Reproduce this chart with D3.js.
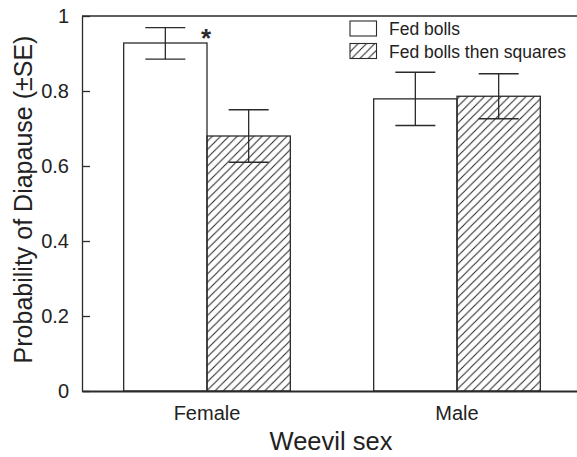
<!DOCTYPE html>
<html>
<head>
<meta charset="utf-8">
<script src="https://cdn.jsdelivr.net/npm/d3@7"></script>
<style>
  body { margin: 0; background: #fff; }
  svg { display: block; font-family: "Liberation Sans", Arial, sans-serif; }
</style>
</head>
<body>
<div class="plot"></div>
<script>
// DATA
var sexes = ["Female", "Male"];
var seriesNames = ["Fed bolls", "Fed bolls then squares"];
var fedBolls = [0.928, 0.779];
var fedBollsSquares = [0.680, 0.786];
var fedBollsHi = [0.969, 0.850];
var fedBollsLo = [0.885, 0.708];
var squaresHi = [0.750, 0.846];
var squaresLo = [0.610, 0.726];
var yTicks = [0, 0.2, 0.4, 0.6, 0.8, 1];
var significant = ["Female"];

var w = 577;
var h = 457;
var padLeft = 82, padTop = 16, padBottom = 391, padRight = 582;
var ink = "#2b2b2b";

var rows = [];
sexes.forEach(function (s, i) {
  rows.push({ sex: s, series: seriesNames[0], value: fedBolls[i], hi: fedBollsHi[i], lo: fedBollsLo[i] });
  rows.push({ sex: s, series: seriesNames[1], value: fedBollsSquares[i], hi: squaresHi[i], lo: squaresLo[i] });
});

var svg = d3.select(".plot").append("svg").attr("width", w).attr("height", h);

// hatch pattern
var defs = svg.append("defs");
defs.append("pattern")
  .attr("id", "hatch")
  .attr("patternUnits", "userSpaceOnUse")
  .attr("width", 8.3)
  .attr("height", 8.3)
  .append("path")
  .attr("d", "M-2,2 l4,-4 M0,8.3 l8.3,-8.3 M6.3,10.3 l4,-4")
  .attr("stroke", "#222")
  .attr("stroke-width", 1);

// SCALES
var xScale = d3.scaleBand()
  .domain(sexes)
  .range([padLeft, padRight])
  .paddingInner(1 / 3)
  .paddingOuter(1 / 6);

var xSub = d3.scaleBand()
  .domain(seriesNames)
  .range([0, xScale.bandwidth()]);

var yScale = d3.scaleLinear()
  .domain([0, 1])
  .range([padBottom, padTop]);

var fills = d3.scaleOrdinal().domain(seriesNames).range(["#fff", "url(#hatch)"]);

// top frame line
svg.append("line")
  .attr("x1", padLeft).attr("x2", w)
  .attr("y1", yScale(1)).attr("y2", yScale(1))
  .attr("stroke", ink).attr("stroke-width", 1.3);

// BARS
svg.selectAll("rect.bar")
  .data(rows)
  .enter()
  .append("rect")
  .attr("class", "bar")
  .attr("x", function (d) { return xScale(d.sex) + xSub(d.series); })
  .attr("y", function (d) { return yScale(d.value); })
  .attr("width", xSub.bandwidth())
  .attr("height", function (d) { return yScale(0) - yScale(d.value); })
  .attr("fill", function (d) { return fills(d.series); })
  .attr("stroke", ink)
  .attr("stroke-width", 1.3);

// ERROR BARS
var capW = 40;
var err = svg.selectAll("g.err")
  .data(rows)
  .enter()
  .append("g")
  .attr("class", "err")
  .attr("stroke", ink)
  .attr("stroke-width", 1.3);
err.append("line")
  .attr("x1", function (d) { return xScale(d.sex) + xSub(d.series) + xSub.bandwidth() / 2; })
  .attr("x2", function (d) { return xScale(d.sex) + xSub(d.series) + xSub.bandwidth() / 2; })
  .attr("y1", function (d) { return yScale(d.hi); })
  .attr("y2", function (d) { return yScale(d.lo); });
err.selectAll("line.cap")
  .data(function (d) { return [d, d].map(function (r, k) { return { r: r, v: k ? r.lo : r.hi }; }); })
  .enter()
  .append("line")
  .attr("class", "cap")
  .attr("x1", function (d) { return xScale(d.r.sex) + xSub(d.r.series) + xSub.bandwidth() / 2 - capW / 2; })
  .attr("x2", function (d) { return xScale(d.r.sex) + xSub(d.r.series) + xSub.bandwidth() / 2 + capW / 2; })
  .attr("y1", function (d) { return yScale(d.v); })
  .attr("y2", function (d) { return yScale(d.v); });

// asterisk
svg.selectAll("text.star")
  .data(significant)
  .enter()
  .append("text")
  .attr("class", "star")
  .attr("x", function (d) { return xScale(d) + xSub.bandwidth() - 1; })
  .attr("y", yScale(fedBollsHi[0]) + 19)
  .attr("text-anchor", "middle")
  .attr("font-size", "26px")
  .attr("font-weight", "bold")
  .attr("fill", ink)
  .text("*");

// AXES
var yAxis = d3.axisLeft(yScale)
  .tickValues(yTicks)
  .tickFormat(function (d) { return d === 0 || d === 1 ? d3.format("d")(d) : d3.format(".1f")(d); })
  .tickSizeInner(-8)
  .tickSizeOuter(0)
  .tickPadding(13);

var gy = svg.append("g")
  .attr("class", "axis y")
  .attr("transform", "translate(" + padLeft + ",0)")
  .call(yAxis);
gy.select(".domain").attr("stroke", ink).attr("stroke-width", 1.3);
gy.selectAll(".tick line").attr("stroke", ink).attr("stroke-width", 1.3);
gy.selectAll(".tick text")
  .attr("font-size", "20px")
  .attr("fill", "#222")
  .attr("font-family", "Liberation Sans, Arial, sans-serif");

var xAxis = d3.axisBottom(xScale)
  .tickSize(0)
  .tickPadding(15);

var gx = svg.append("g")
  .attr("class", "axis x")
  .attr("transform", "translate(0," + padBottom + ")")
  .call(xAxis);
gx.select(".domain").attr("stroke", ink).attr("stroke-width", 2);
gx.selectAll(".tick text")
  .attr("font-size", "20px")
  .attr("fill", "#222")
  .attr("font-family", "Liberation Sans, Arial, sans-serif");

// axis labels
svg.append("text")
  .attr("x", (padLeft + padRight) / 2 - 1)
  .attr("y", 450)
  .attr("text-anchor", "middle")
  .attr("font-size", "25.5px")
  .attr("fill", "#222")
  .text("Weevil sex");

svg.append("text")
  .attr("transform", "rotate(-90)")
  .attr("x", -(padTop + padBottom) / 2 + 4)
  .attr("y", 32)
  .attr("text-anchor", "middle")
  .attr("font-size", "25px")
  .attr("fill", "#222")
  .text("Probability of Diapause (±SE)");

// LEGEND
var legend = svg.selectAll("g.legend")
  .data(seriesNames)
  .enter()
  .append("g")
  .attr("class", "legend")
  .attr("transform", function (d, i) { return "translate(350," + (21 + i * 22.5) + ")"; });
legend.append("rect")
  .attr("width", 26.5)
  .attr("height", 15)
  .attr("fill", function (d) { return fills(d); })
  .attr("stroke", ink)
  .attr("stroke-width", 1.1);
legend.append("text")
  .attr("x", 39)
  .attr("y", 14)
  .attr("font-size", "17.5px")
  .attr("fill", "#222")
  .text(function (d) { return d; });
</script>
</body>
</html>
